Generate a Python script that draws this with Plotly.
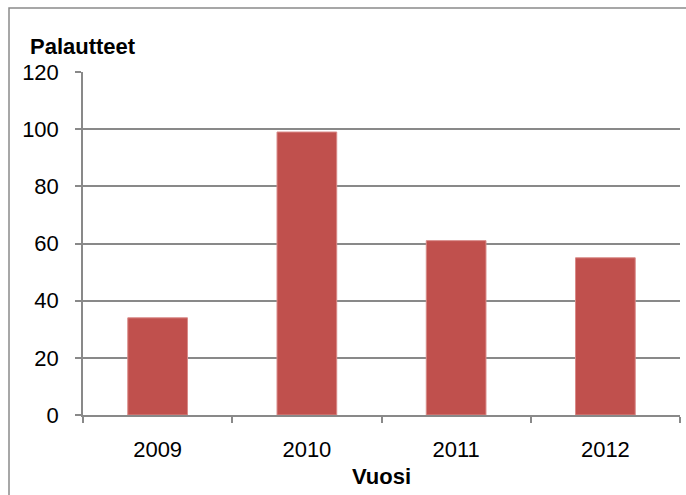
import plotly.graph_objects as go

years = ["2009", "2010", "2011", "2012"]
palautteet = [34, 99, 61, 55]
y_ticks = [0, 20, 40, 60, 80, 100, 120]

W, H = 686, 495
L, R, T, B = 83, 6, 72, 80
pw, ph = W - L - R, H - T - B

def px_x(x):
    return (x - L) / pw

def px_y(y):
    return (H - B - y) / ph

font = "Liberation Sans, Arial, sans-serif"
grey = "#898989"
fs = 22

fig = go.Figure()
fig.add_trace(go.Bar(
    x=years, y=palautteet,
    marker=dict(color="#C0504D", line=dict(color="#D98A88", width=1)),
    width=0.4,
))

fig.update_layout(
    width=W, height=H,
    margin=dict(l=L, r=R, t=T, b=B),
    paper_bgcolor="white", plot_bgcolor="white",
    showlegend=False,
    font=dict(family=font, size=fs, color="black"),
    xaxis=dict(
        type="category",
        tickson="boundaries",
        ticks="outside", ticklen=6, tickcolor=grey, tickwidth=1.5,
        showline=True, linecolor=grey, linewidth=1.5,
        showgrid=False,
        tickfont=dict(family=font, size=fs, color="black"),
        ticklabelstandoff=14,
    ),
    yaxis=dict(
        range=[0, 120],
        tickvals=y_ticks,
        ticks="outside", ticklen=6, tickcolor=grey, tickwidth=1.5,
        showline=True, linecolor=grey, linewidth=1.5,
        showgrid=True, gridcolor=grey, gridwidth=1.5,
        zeroline=False,
        tickfont=dict(family=font, size=fs, color="black"),
        ticklabelstandoff=12,
    ),
    shapes=[dict(
        type="rect", xref="paper", yref="paper",
        x0=px_x(9), x1=px_x(700), y0=px_y(510), y1=px_y(8),
        line=dict(color="#8a8a8a", width=1.5), fillcolor="rgba(0,0,0,0)",
        layer="below",
    )],
    annotations=[
        dict(text="<b>Palautteet</b>", xref="paper", yref="paper",
             x=px_x(83), y=px_y(46), showarrow=False,
             xanchor="center", yanchor="middle",
             font=dict(family=font, size=fs, color="black")),
        dict(text="<b>Vuosi</b>", xref="paper", yref="paper",
             x=px_x(381), y=px_y(477), showarrow=False,
             xanchor="center", yanchor="middle",
             font=dict(family=font, size=fs, color="black")),
    ],
)

fig.write_html(
    "out.html",
    config={"displayModeBar": False},
    post_script="document.body.style.margin='0';document.body.style.padding='0';",
)
